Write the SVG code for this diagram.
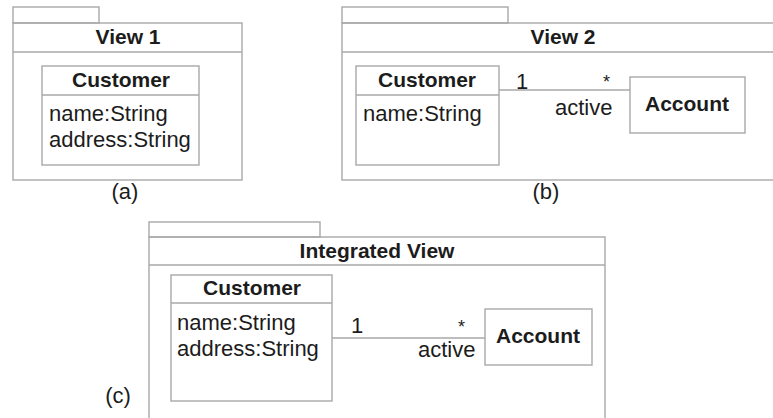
<svg xmlns="http://www.w3.org/2000/svg" width="773" height="418" viewBox="0 0 773 418">
<style>
.ln{fill:none;stroke:#a8a8a8;stroke-width:1.4}
text{font-family:"Liberation Sans",Arial,sans-serif;font-size:22px;fill:#1c1c1c}
.b{font-weight:bold;font-size:21px}
.m{text-anchor:middle}
.s{font-size:18px}
</style>
<rect width="773" height="418" fill="#fff"/>
<g id="view1">
<rect class="ln" x="13" y="7" width="86" height="16"/>
<rect class="ln" x="13" y="23" width="229" height="157"/>
<line class="ln" x1="13" y1="52" x2="242" y2="52"/>
<text class="b m" x="128" y="44">View 1</text>
<text class="m" x="125" y="199">(a)</text>
</g>
<g id="view1-customer">
<rect class="ln" x="42" y="66" width="157" height="99"/>
<line class="ln" x1="42" y1="95" x2="199" y2="95"/>
<text class="b m" x="121" y="87">Customer</text>
<text x="49" y="121">name:String</text>
<text x="49" y="147">address:String</text>
</g>
<g id="view2">
<rect class="ln" x="342" y="7" width="166" height="16"/>
<rect class="ln" x="342" y="23" width="440" height="157"/>
<line class="ln" x1="342" y1="52" x2="773" y2="52"/>
<text class="b m" x="563" y="44">View 2</text>
<text class="m" x="546" y="199">(b)</text>
</g>
<g id="view2-customer">
<rect class="ln" x="356" y="66" width="143" height="99"/>
<line class="ln" x1="356" y1="95" x2="499" y2="95"/>
<text class="b m" x="427" y="87">Customer</text>
<text x="363" y="121">name:String</text>
</g>
<g id="view2-account">
<rect class="ln" x="630" y="77" width="115" height="56"/>
<text class="b m" x="687" y="111">Account</text>
</g>
<g id="integrated">
<rect class="ln" x="149" y="222" width="171" height="15"/>
<rect class="ln" x="149" y="237" width="456" height="200"/>
<line class="ln" x1="149" y1="265" x2="605" y2="265"/>
<text class="b m" x="377" y="258">Integrated View</text>
<text class="m" x="118" y="403">(c)</text>
</g>
<g id="integrated-customer">
<rect class="ln" x="171" y="275" width="161" height="126"/>
<line class="ln" x1="171" y1="303" x2="332" y2="303"/>
<text class="b m" x="252" y="295">Customer</text>
<text x="177" y="330">name:String</text>
<text x="177" y="356">address:String</text>
</g>
<g id="integrated-account">
<rect class="ln" x="485" y="309" width="107" height="56"/>
<text class="b m" x="538" y="343">Account</text>
</g>
<g id="connectors">
<line class="ln" x1="499" y1="90" x2="630" y2="90"/>
<text x="516" y="89">1</text>
<text class="s" x="603" y="88">*</text>
<text x="555" y="115">active</text>
<line class="ln" x1="332" y1="338" x2="485" y2="338"/>
<text x="351" y="333">1</text>
<text class="s" x="458" y="333">*</text>
<text x="418" y="357">active</text>
</g>
</svg>
